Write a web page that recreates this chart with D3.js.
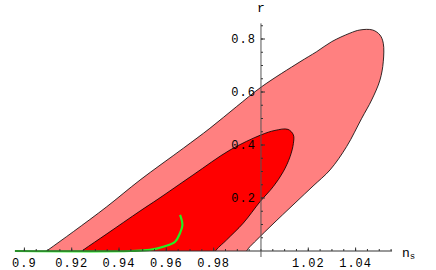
<!DOCTYPE html>
<html>
  <head>
    <meta charset="UTF-8">
    <title>ns - r contours</title>
    <style>
      html, body {
        margin: 0;
        padding: 0;
        background: #fff;
      }

      .tick text {
        font: 12px "Liberation Mono", monospace;
        letter-spacing: 1px;
        fill: #000;
      }
    </style>
  </head>
  <body>
    <svg width="436" height="270"></svg>
    <script src="https://cdn.jsdelivr.net/npm/d3@7"></script>
    <script>

      // tick labels
      const xTicks = [0.9, 0.92, 0.94, 0.96, 0.98, 1.02, 1.04]
      const yTicks = [0.2, 0.4, 0.6, 0.8]

      // outer contour (ns, r)
      const outerContour = [
        [0.9047, -0.03], [0.9100, 0.004], [0.9207, 0.073], [0.9348, 0.167],
        [0.9489, 0.268], [0.9672, 0.388], [0.9784, 0.463],
        [0.9897, 0.545], [1.0003, 0.620], [1.0165, 0.714], [1.0235, 0.752],
        [1.0299, 0.790], [1.0376, 0.822], [1.0418, 0.834], [1.0472, 0.834],
        [1.0503, 0.815], [1.0517, 0.784], [1.0517, 0.714], [1.0503, 0.645],
        [1.0468, 0.570], [1.0426, 0.501], [1.0362, 0.394], [1.0292, 0.306],
        [1.0220, 0.245], [1.0144, 0.181], [1.0038, 0.091], [0.9954, 0.017],
        [0.9903, -0.03]
      ]

      // inner contour
      const innerContour = [
        [0.9196, -0.03], [0.9249, 0.004], [0.9349, 0.065], [0.9489, 0.151],
        [0.9565, 0.196], [0.9713, 0.287], [0.9869, 0.381], [1.0000, 0.438],
        [1.0059, 0.455], [1.0114, 0.459], [1.0137, 0.438], [1.0137, 0.406],
        [1.0123, 0.356], [1.0094, 0.299], [1.0052, 0.243], [0.9996, 0.186],
        [0.9925, 0.105], [0.9855, 0.042], [0.9806, -0.003], [0.9802, -0.03]
      ]

      // green model curve
      const modelCurve = [
        [0.896, 0], [0.945, 0], [0.953, 0.004], [0.9587, 0.016],
        [0.9637, 0.035], [0.9658, 0.068], [0.9668, 0.098], [0.9658, 0.136]
      ]

      const svg = d3.select('svg')

      const x = d3.scaleLinear().domain([0.9, 1.04]).range([24.4, 355.6])
      const y = d3.scaleLinear().domain([0, 0.8]).range([251, 39])

      svg.append('clipPath').attr('id', 'clip')
        .append('rect')
        .attr('x', 0).attr('y', 0)
        .attr('width', 436).attr('height', y(0))

      const closed = d3.line()
        .x(d => x(d[0])).y(d => y(d[1]))
        .curve(d3.curveCatmullRomClosed.alpha(0.5))

      const g = svg.append('g').attr('clip-path', 'url(#clip)')

      g.append('path')
        .attr('d', closed(outerContour))
        .attr('fill', '#ff8080')
        .attr('stroke', '#000')
        .attr('stroke-width', 0.8)

      g.append('path')
        .attr('d', closed(innerContour))
        .attr('fill', '#ff0000')
        .attr('stroke', '#000')
        .attr('stroke-width', 0.8)

      svg.append('path')
        .attr('d', d3.line().x(d => x(d[0])).y(d => y(d[1]))
          .curve(d3.curveCatmullRom.alpha(0.5))(modelCurve))
        .attr('fill', 'none')
        .attr('stroke', '#22ee22')
        .attr('stroke-width', 2.2)

      // x axis, ticks pointing up
      const xAxis = svg.append('g').attr('transform', 'translate(0,' + y(0) + ')')
      xAxis.append('line')
        .attr('x1', x(0.896)).attr('x2', x(1.0554))
        .attr('stroke', '#333')
      xAxis.selectAll('.minor')
        .data(d3.range(0.9, 1.0551, 0.005))
        .enter().append('line')
        .attr('x1', d => x(d)).attr('x2', d => x(d))
        .attr('y1', 0).attr('y2', -2)
        .attr('stroke', '#333')
      const xt = xAxis.selectAll('.tick').data(xTicks).enter().append('g')
        .attr('class', 'tick')
        .attr('transform', d => 'translate(' + x(d) + ',0)')
      xt.append('line').attr('y2', -3.5).attr('stroke', '#333')
      xt.append('text')
        .attr('y', 16)
        .attr('text-anchor', 'middle')
        .text(d => d3.format('')(d))

      // y axis, ticks pointing right
      const yAxis = svg.append('g').attr('transform', 'translate(' + x(1) + ',0)')
      yAxis.append('line')
        .attr('y1', y(0.859)).attr('y2', y(0) + 6)
        .attr('stroke', '#555')
      yAxis.selectAll('.minor')
        .data(d3.range(0.05, 0.86, 0.05))
        .enter().append('line')
        .attr('y1', d => y(d)).attr('y2', d => y(d))
        .attr('x1', 0).attr('x2', 2)
        .attr('stroke', '#333')
      const yt = yAxis.selectAll('.tick').data(yTicks).enter().append('g')
        .attr('class', 'tick')
        .attr('transform', d => 'translate(0,' + y(d) + ')')
      yt.append('line').attr('x2', 4).attr('stroke', '#333')
      yt.append('text')
        .attr('x', -5)
        .attr('dy', '0.35em')
        .attr('text-anchor', 'end')
        .text(d => d3.format('')(d))

      // axis names
      svg.append('text')
        .attr('x', x(1)).attr('y', 12)
        .attr('text-anchor', 'middle')
        .style('font', '13px "Liberation Mono", monospace')
        .text('r')

      const ns = svg.append('text')
        .attr('x', 402).attr('y', 257)
        .style('font', '13px "Liberation Mono", monospace')
      ns.append('tspan').text('n')
      ns.append('tspan').attr('dy', 2).style('font-size', '9px').text('s')

    </script>
  </body>
</html>
